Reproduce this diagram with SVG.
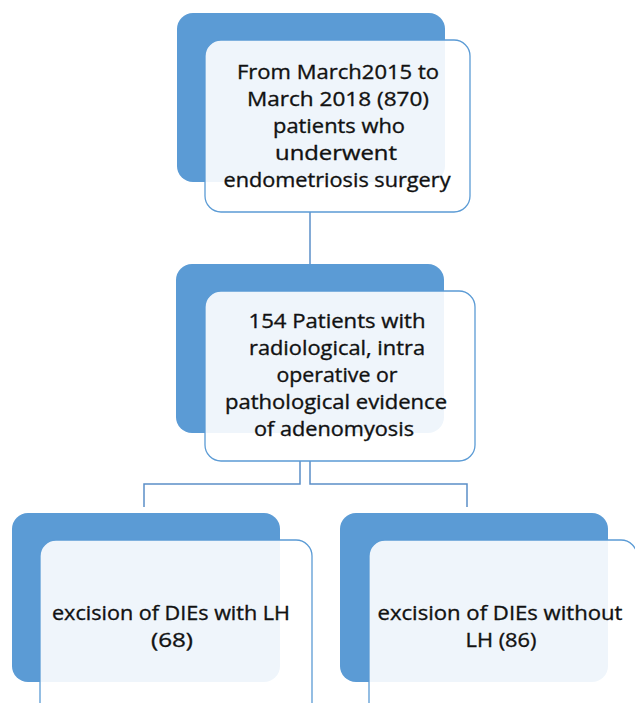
<svg xmlns="http://www.w3.org/2000/svg" width="635" height="703" viewBox="0 0 635 703">
<style>
.back{fill:#5B9BD5;}
.front{fill:#FFFFFF;fill-opacity:0.9;stroke:#5B9BD5;stroke-width:1.3;}
.t{font-family:"Open Sans","Liberation Sans",sans-serif;font-size:20px;fill:#111111;stroke:#111111;stroke-width:0.35;text-anchor:middle;}
.conn{fill:none;stroke:#5B8FC8;stroke-width:1.5;}
</style>
<rect width="635" height="703" fill="#FFFFFF"/>
<g id="connectors">
<path class="conn" d="M310 212 V264"/>
<path class="conn" d="M300 461 V484 H144 V507"/>
<path class="conn" d="M310 461 V484 H467 V507"/>
</g>
<g id="node-top">
<rect class="back" x="177" y="13" width="268" height="169" rx="16"/>
<rect class="front" x="205" y="40" width="265" height="172" rx="16"/>
<text class="t" x="338" y="79" textLength="202" lengthAdjust="spacingAndGlyphs">From March2015 to</text>
<text class="t" x="338" y="106" textLength="182" lengthAdjust="spacingAndGlyphs">March 2018 (870)</text>
<text class="t" x="339" y="133" textLength="132" lengthAdjust="spacingAndGlyphs">patients who</text>
<text class="t" x="336" y="160" textLength="122" lengthAdjust="spacingAndGlyphs">underwent</text>
<text class="t" x="337" y="187" textLength="227" lengthAdjust="spacingAndGlyphs">endometriosis surgery</text>
</g>
<g id="node-middle">
<rect class="back" x="176" y="264" width="268" height="169" rx="16"/>
<rect class="front" x="205" y="291" width="270" height="170" rx="16"/>
<text class="t" x="337" y="328" textLength="177" lengthAdjust="spacingAndGlyphs">154 Patients with</text>
<text class="t" x="337" y="355" textLength="176" lengthAdjust="spacingAndGlyphs">radiological, intra</text>
<text class="t" x="337" y="382" textLength="121" lengthAdjust="spacingAndGlyphs">operative or</text>
<text class="t" x="336" y="409" textLength="222" lengthAdjust="spacingAndGlyphs">pathological evidence</text>
<text class="t" x="334" y="436" textLength="160" lengthAdjust="spacingAndGlyphs">of adenomyosis</text>
</g>
<g id="node-left">
<rect class="back" x="12" y="513" width="268" height="169" rx="16"/>
<rect class="front" x="40" y="540" width="272" height="200" rx="16"/>
<text class="t" x="171" y="620" textLength="238" lengthAdjust="spacingAndGlyphs">excision of DIEs with LH</text>
<text class="t" x="172" y="647" textLength="42" lengthAdjust="spacingAndGlyphs">(68)</text>
</g>
<g id="node-right">
<rect class="back" x="340" y="513" width="268" height="169" rx="16"/>
<rect class="front" x="369" y="540" width="268" height="200" rx="16"/>
<text class="t" x="500" y="620" textLength="245" lengthAdjust="spacingAndGlyphs">excision of DIEs without</text>
<text class="t" x="501" y="647" textLength="71" lengthAdjust="spacingAndGlyphs">LH (86)</text>
</g>
</svg>
